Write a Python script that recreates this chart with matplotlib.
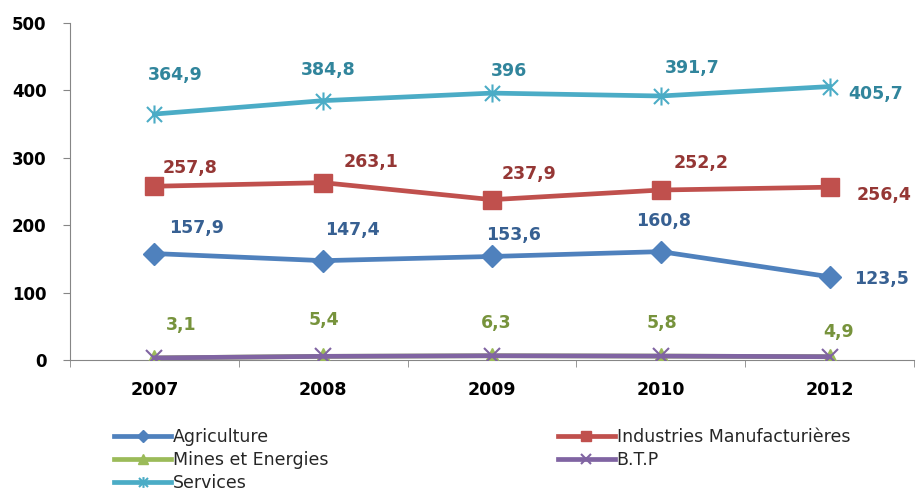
import numpy as np
import matplotlib.pyplot as plt
from matplotlib.path import Path
from matplotlib.ticker import FixedLocator

years = ['2007', '2008', '2009', '2010', '2012']
agriculture = [157.9, 147.4, 153.6, 160.8, 123.5]
industries = [257.8, 263.1, 237.9, 252.2, 256.4]
mines = [3.1, 5.4, 6.3, 5.8, 4.9]
btp = [3.1, 5.4, 6.3, 5.8, 4.9]
services = [364.9, 384.8, 396.0, 391.7, 405.7]

plt.rcParams['font.family'] = ['DejaVu Sans']

# Excel-like star marker: an X with a vertical bar
star = Path([(-1, -1), (1, 1), (-1, 1), (1, -1), (0, -1.2), (0, 1.2)],
            [Path.MOVETO, Path.LINETO, Path.MOVETO, Path.LINETO, Path.MOVETO, Path.LINETO])

x = np.arange(len(years))

fig = plt.figure(figsize=(9.17, 4.93), dpi=100)
ax = fig.add_axes([70/917, 1-360/493, 844/917, 337/493])

h_agri, = ax.plot(x, agriculture, color='#4F81BD', lw=3.4, marker='D', ms=11, label='Agriculture', zorder=3)
h_ind, = ax.plot(x, industries, color='#C0504D', lw=3.4, marker='s', ms=13, label='Industries Manufacturières', zorder=3)
h_min, = ax.plot(x, mines, color='#9BBB59', lw=3.4, marker='^', ms=12, label='Mines et Energies', zorder=3)
h_btp, = ax.plot(x, btp, color='#8064A2', lw=3.4, marker='x', ms=11, mew=1.5, label='B.T.P', zorder=4)
h_ser, = ax.plot(x, services, color='#4BACC6', lw=3.4, marker=star, ms=13, mew=1.5, label='Services', zorder=3)

def fmt(v):
    s = ('%.1f' % v).replace('.', ',')
    if s.endswith(',0'):
        s = s[:-2]
    return s

# label offsets in pixels (dx, dy)
ser_off = [(21, 39), (5, 31), (17, 22), (31, 28), (46, -7)]
ind_off = [(36, 18), (48, 21), (37, 26), (40, 27), (54, -8)]
agr_off = [(42, 26), (29, 31), (21, 21), (3, 31), (52, -2)]
min_off = [(27, 33), (1, 36), (4, 33), (1, 33), (9, 25)]

for vals, offs, c in [(services, ser_off, '#31859C'),
                      (industries, ind_off, '#953735'),
                      (agriculture, agr_off, '#376092'),
                      (mines, min_off, '#77933C')]:
    for i in range(len(vals)):
        ax.annotate(fmt(vals[i]), (x[i], vals[i]), xytext=offs[i], textcoords='offset pixels',
                    ha='center', va='center', fontsize=12.5, fontweight='bold', color=c)

ax.set_xlim(-0.5, 4.5)
ax.set_ylim(0, 500)
ax.set_yticks([0, 100, 200, 300, 400, 500])
ax.set_xticks(x)
ax.set_xticklabels(years)
ax.xaxis.set_minor_locator(FixedLocator(np.arange(-0.5, 5, 1)))
ax.tick_params(axis='x', which='major', length=0, pad=15)
ax.tick_params(axis='x', which='minor', length=5, color='#868686', direction='out')
ax.tick_params(axis='y', length=5, color='#868686', direction='out', pad=12)
for lab in ax.get_yticklabels():
    lab.set_fontweight('bold')
    lab.set_fontsize(12)
for lab in ax.get_xticklabels():
    lab.set_fontweight('bold')
    lab.set_fontsize(12.5)

for s in ['top', 'right']:
    ax.spines[s].set_visible(False)
ax.spines['left'].set_color('#868686')
ax.spines['bottom'].set_color('#868686')

handles = [h_agri, h_min, h_ser, h_ind, h_btp]
leg = fig.legend(handles, [h.get_label() for h in handles], ncol=2,
                 loc='upper left', bbox_to_anchor=(114/917, 1-428/493),
                 frameon=False, fontsize=12.5, handlelength=3.3, handletextpad=0.1,
                 columnspacing=13.2, labelspacing=0.3, markerscale=0.6,
                 borderaxespad=0, borderpad=0)
for t in leg.get_texts():
    t.set_color('#262626')

fig.savefig('out.png', dpi=100)
